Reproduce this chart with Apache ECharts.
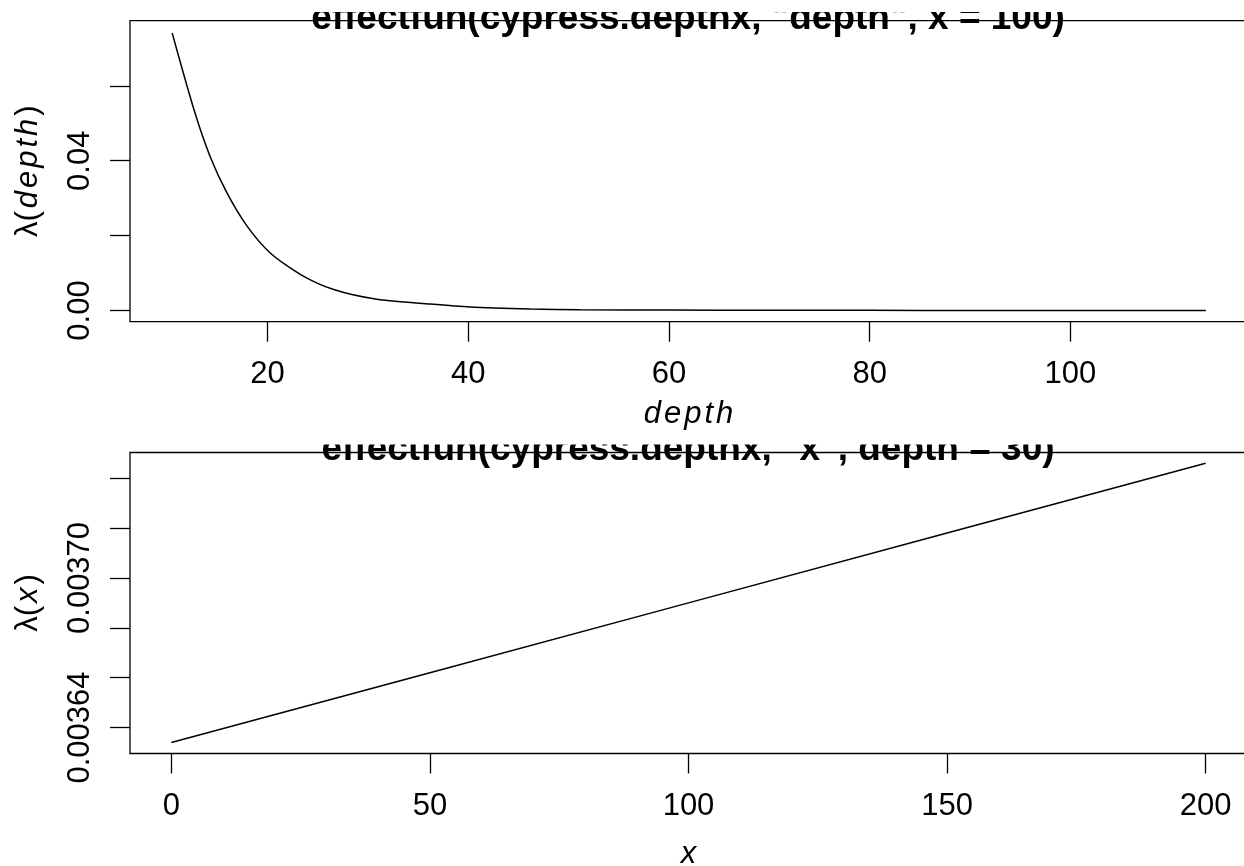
<!DOCTYPE html>
<html>
<head>
<meta charset="utf-8">
<script src="https://cdn.jsdelivr.net/npm/echarts@6/dist/echarts.min.js"></script>
<style>
  html, body { margin: 0; padding: 0; background: #fff; }
  #chart { width: 1244px; height: 866px; }
</style>
</head>
<body>
<div id="chart"></div>
<script>
// top panel: effectfun(cypress.depthx, "depth", x = 100)
var depthVals = [10.5, 12.7, 14.3, 16.0, 18.0, 20.3, 23.3, 26.6, 30.9, 36.2, 40.2, 46.2, 51.2, 60, 70, 80, 90, 100, 113.5];
var depthLambda = [0.0741, 0.0534, 0.0410, 0.0312, 0.0224, 0.0153, 0.0096, 0.0056, 0.0030, 0.0017, 0.0009, 0.0004, 0.0002, 0.0001, 0.00005, 0.00003, 0.00002, 0.00001, 0.00001];
var depthTicksX = [20, 40, 60, 80, 100];
var depthTicksY = [0, 0.02, 0.04, 0.06];
var depthLabelsY = [0, 0.04];

// bottom panel: effectfun(cypress.depthx, "x", depth = 30)
var xVals = [0, 50, 100, 150, 200];
var xLambda = [0.003634, 0.003662, 0.003690, 0.003718, 0.003746];
var xTicksX = [0, 50, 100, 150, 200];
var xTicksY = [0.00364, 0.00366, 0.00368, 0.00370, 0.00372, 0.00374];
var xLabelsY = [0.00364, 0.00370];

var titles = ['effectfun(cypress.depthx, "depth", x = 100)', 'effectfun(cypress.depthx, "x", depth = 30)'];

var myChart = echarts.init(document.getElementById('chart'));

var font = 'Liberation Sans';
var black = '#000';

function pairs(xs, ys) {
    return xs.map(function (x, i) { return [x, ys[i]]; });
}

// plotmath-like italic, spaced letter by letter
function italic(word) {
    return word.split('').map(function (c) { return '{i|' + c + '}'; }).join('');
}
var nameRich = {
    n: { fontFamily: font, fontSize: 31, color: black, padding: [0, 1.5, 0, 1.5] },
    i: { fontFamily: font, fontSize: 31, fontStyle: 'italic', color: black, padding: [0, 1.5, 0, 1.5] }
};

function xAxisOpt(grid, min, max, ticks, name, gap) {
    return {
        type: 'value', gridIndex: grid, min: min, max: max,
        name: italic(name), nameLocation: 'middle', nameGap: gap,
        nameTextStyle: { rich: nameRich, lineHeight: 31 },
        axisLine: { show: false, onZero: false },
        axisTick: { show: true, inside: false, length: 20, customValues: ticks,
            lineStyle: { color: black, width: 1.3 } },
        axisLabel: { customValues: ticks, margin: 37.5, color: black, fontSize: 31,
            fontFamily: font, lineHeight: 31 },
        splitLine: { show: false }
    };
}

function yAxisOpt(grid, min, max, ticks, labels, digits, name) {
    return {
        type: 'value', gridIndex: grid, min: min, max: max,
        name: '{n|λ(}' + italic(name) + '{n|)}', nameLocation: 'middle', nameGap: 86,
        nameTextStyle: { rich: nameRich, lineHeight: 31 },
        axisLine: { show: false, onZero: false },
        axisTick: { show: true, inside: false, length: 20, customValues: ticks,
            lineStyle: { color: black, width: 1.3 } },
        axisLabel: { customValues: labels, rotate: 90, margin: 34, color: black,
            fontSize: 31, fontFamily: font, lineHeight: 31,
            formatter: function (v) { return v.toFixed(digits); } },
        splitLine: { show: false }
    };
}

function titleOpt(text, top) {
    return {
        text: text, left: 688, top: top, textAlign: 'center', padding: 0,
        textStyle: { fontFamily: font, fontSize: 37, fontWeight: 'bold', color: black, lineHeight: 37 }
    };
}

var option = {
    backgroundColor: '#fff',
    animation: false,
    title: [titleOpt(titles[0], 0), titleOpt(titles[1], 431.5)],
    grid: [
        { left: 130, top: 20.7, width: 1117, height: 301, show: true,
          borderColor: black, borderWidth: 1.3, outerBoundsMode: 'none', containLabel: false },
        { left: 130, top: 452.5, width: 1117, height: 301, show: true,
          borderColor: black, borderWidth: 1.3, outerBoundsMode: 'none', containLabel: false }
    ],
    xAxis: [
        xAxisOpt(0, 6.3, 117.6, depthTicksX, 'depth', 77),
        xAxisOpt(1, -8, 208, xTicksX, 'x', 85)
    ],
    yAxis: [
        yAxisOpt(0, -0.003, 0.0774, depthTicksY, depthLabelsY, 2, 'depth'),
        yAxisOpt(1, 0.0036296, 0.0037503, xTicksY, xLabelsY, 5, 'x')
    ],
    // R clips the titles to the figure region; mimic with white masks
    graphic: [
        { type: 'rect', zlevel: 1, z: 100, shape: { x: 280, y: 0, width: 820, height: 12 },
          style: { fill: '#fff' } },
        { type: 'rect', zlevel: 1, z: 100, shape: { x: 280, y: 431, width: 820, height: 13.5 },
          style: { fill: '#fff' } }
    ],
    series: [
        {
            type: 'line', xAxisIndex: 0, yAxisIndex: 0,
            data: pairs(depthVals, depthLambda),
            showSymbol: false, smooth: 0.25,
            lineStyle: { color: black, width: 1.5 }
        },
        {
            type: 'line', xAxisIndex: 1, yAxisIndex: 1,
            data: pairs(xVals, xLambda),
            showSymbol: false,
            lineStyle: { color: black, width: 1.5 }
        }
    ]
};

myChart.setOption(option);
</script>
</body>
</html>
